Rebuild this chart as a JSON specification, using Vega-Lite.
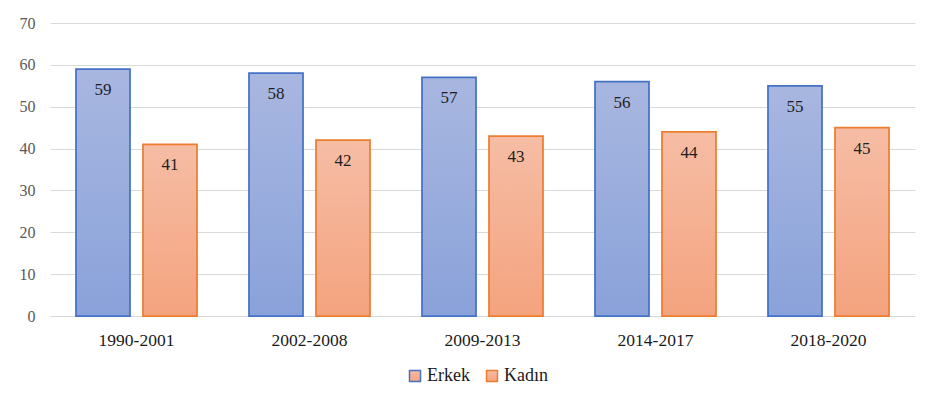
{
  "$schema": "https://vega.github.io/schema/vega-lite/v6.json",
  "width": 865,
  "height": 293,
  "autosize": {"type": "none"},
  "padding": {"left": 50, "top": 23, "right": 23, "bottom": 91},
  "background": "white",
  "config": {
    "view": {"stroke": null},
    "font": "Liberation Serif"
  },
  "data": {
    "values": [
      {"period": "1990-2001", "sex": "Erkek", "value": 59},
      {"period": "1990-2001", "sex": "Kadın", "value": 41},
      {"period": "2002-2008", "sex": "Erkek", "value": 58},
      {"period": "2002-2008", "sex": "Kadın", "value": 42},
      {"period": "2009-2013", "sex": "Erkek", "value": 57},
      {"period": "2009-2013", "sex": "Kadın", "value": 43},
      {"period": "2014-2017", "sex": "Erkek", "value": 56},
      {"period": "2014-2017", "sex": "Kadın", "value": 44},
      {"period": "2018-2020", "sex": "Erkek", "value": 55},
      {"period": "2018-2020", "sex": "Kadın", "value": 45}
    ]
  },
  "encoding": {
    "x": {
      "field": "period", "type": "nominal", "sort": null,
      "scale": {"paddingInner": 0.3006, "paddingOuter": 0.1503},
      "axis": {
        "title": null, "labelAngle": 0, "ticks": false, "domain": false, "grid": false,
        "labelFont": "Liberation Serif", "labelFontSize": 17.5, "labelColor": "#1a1a1a",
        "labelPadding": 15
      }
    },
    "xOffset": {
      "field": "sex", "type": "nominal", "sort": ["Erkek", "Kadın"],
      "scale": {"paddingInner": 0.194, "paddingOuter": 0}
    },
    "y": {
      "field": "value", "type": "quantitative",
      "scale": {"domain": [0, 70], "nice": false},
      "axis": {
        "title": null, "values": [0, 10, 20, 30, 40, 50, 60, 70],
        "ticks": false, "domain": false, "grid": true, "gridColor": "#d9d9d9", "gridWidth": 1.2,
        "labelFont": "Times New Roman", "labelFontSize": 16, "labelColor": "#595959",
        "labelPadding": 15
      }
    }
  },
  "layer": [
    {
      "mark": {"type": "bar", "strokeWidth": 1.75},
      "encoding": {
        "fill": {
          "condition": {
            "test": "datum.sex === 'Erkek'",
            "value": {"gradient": "linear", "x1": 0, "y1": 0, "x2": 0, "y2": 1,
              "stops": [{"offset": 0, "color": "#A8B7E0"}, {"offset": 1, "color": "#8AA2DA"}]}
          },
          "value": {"gradient": "linear", "x1": 0, "y1": 0, "x2": 0, "y2": 1,
            "stops": [{"offset": 0, "color": "#F6BDA5"}, {"offset": 1, "color": "#F4A37E"}]}
        },
        "stroke": {
          "field": "sex", "type": "nominal", "sort": ["Erkek", "Kadın"],
          "scale": {"domain": ["Erkek", "Kadın"], "range": ["#4472C4", "#ED7D31"]},
          "legend": {
            "title": null, "orient": "none", "direction": "horizontal",
            "legendX": 356, "legendY": 344,
            "symbolType": "square", "symbolSize": 121, "symbolStrokeWidth": 1.5,
            "labelFont": "serif", "labelFontSize": 18, "labelColor": "#1a1a1a",
            "labelOffset": 3, "columnPadding": 13,
            "encode": {
              "symbols": {
                "update": {
                  "fill": {"signal": "datum.value === 'Erkek' ? '#98ACDD' : '#F5AE8F'"},
                  "fillOpacity": {"value": 1}
                }
              }
            }
          }
        }
      }
    },
    {
      "mark": {"type": "text", "baseline": "middle", "dy": 21, "font": "Liberation Serif, serif", "fontSize": 17, "color": "#1f1f1f"},
      "encoding": {"text": {"field": "value", "type": "quantitative"}}
    }
  ]
}
